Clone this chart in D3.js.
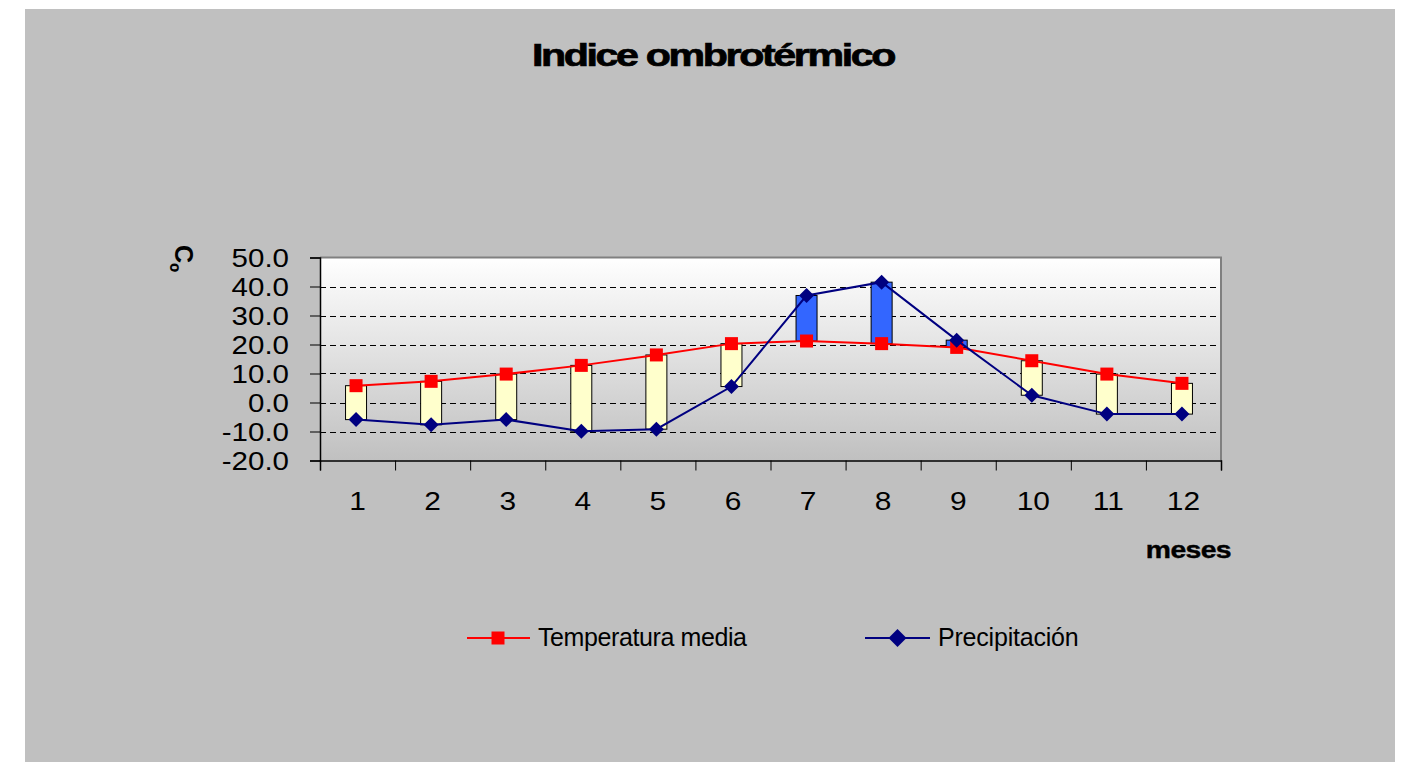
<!DOCTYPE html>
<html>
<head>
<meta charset="utf-8">
<script src="https://cdn.jsdelivr.net/npm/d3@7"></script>
<style>
  body { margin: 0; background: #ffffff; }
  svg { display: block; }
  text { font-family: "Liberation Sans", Arial, sans-serif; fill: #000; }
</style>
</head>
<body>
<svg id="chart" width="1407" height="762"></svg>
<script>
// Monthly values (months 1..12)
const months = ["1", "2", "3", "4", "5", "6", "7", "8", "9", "10", "11", "12"];
const temperatura = [5.8, 7.3, 9.8, 12.8, 16.4, 20.3, 21.2, 20.3, 19.0, 14.4, 9.8, 6.6];
const precipitacion = [-5.9, -7.7, -5.9, -9.9, -9.2, 5.5, 36.9, 41.5, 21.5, 2.5, -4.0, -4.0];
const yTicks = [-20, -10, 0, 10, 20, 30, 40, 50];
const seriesNames = ["Temperatura media", "Precipitación"];
const titleText = "Indice ombrotérmico";
const yTitle = "C";
const yTitleSup = "º";
const xTitle = "meses";

const colTemp = "#ff0000";
const colPrec = "#000080";
const colDry = "#ffffcc";
const colWet = "#3366ff";

const svg = d3.select("#chart");

// chart panel
svg.append("rect")
  .attr("x", 25).attr("y", 9).attr("width", 1370).attr("height", 760)
  .attr("fill", "#c0c0c0");

const plot = { left: 320, right: 1221, top: 257.5, bottom: 460.5 };

const x = d3.scaleBand().domain(months).range([plot.left, plot.right]).padding(0);
const xEdge = d3.scaleLinear().domain([0, months.length]).range([plot.left, plot.right]);
const y = d3.scaleLinear().domain([d3.min(yTicks), d3.max(yTicks)]).range([plot.bottom, plot.top]);
const cx = m => x(m) + x.bandwidth() / 2 - 1.5;

// plot area background gradient
const defs = svg.append("defs");
const grad = defs.append("linearGradient")
  .attr("id", "plotBg").attr("x1", 0).attr("y1", 0).attr("x2", 0).attr("y2", 1);
grad.append("stop").attr("offset", "0%").attr("stop-color", "#ffffff");
grad.append("stop").attr("offset", "100%").attr("stop-color", "#c0c0c0");

svg.append("rect")
  .attr("x", plot.left).attr("y", plot.top)
  .attr("width", plot.right - plot.left).attr("height", plot.bottom - plot.top)
  .attr("fill", "url(#plotBg)");

// dashed gridlines
svg.append("g").selectAll("line")
  .data(yTicks.filter(v => v > d3.min(yTicks) && v < d3.max(yTicks)))
  .join("line")
  .attr("x1", plot.left).attr("x2", plot.right)
  .attr("y1", d => Math.round(y(d)) + 0.5).attr("y2", d => Math.round(y(d)) + 0.5)
  .attr("stroke", "#000").attr("stroke-width", 1).attr("stroke-dasharray", "6,4");

// top and right frame
svg.append("path")
  .attr("d", `M${plot.left},${plot.top}H${plot.right}V${plot.bottom}`)
  .attr("fill", "none").attr("stroke", "#808080").attr("stroke-width", 2);

// up/down bars between the two series
const rows = months.map((m, i) => ({ m, t: temperatura[i], p: precipitacion[i] }));
svg.append("g").selectAll("rect")
  .data(rows)
  .join("rect")
  .attr("x", d => cx(d.m) - 10.5)
  .attr("width", 21)
  .attr("y", d => y(Math.max(d.t, d.p)))
  .attr("height", d => Math.abs(y(d.t) - y(d.p)))
  .attr("fill", d => d.p > d.t ? colWet : colDry)
  .attr("stroke", "#000").attr("stroke-width", 1);

// series lines and markers
const line = d3.line().x((d, i) => cx(months[i])).y(d => y(d));
svg.append("path").datum(temperatura)
  .attr("d", line).attr("fill", "none").attr("stroke", colTemp).attr("stroke-width", 2);
svg.append("g").selectAll("rect")
  .data(temperatura)
  .join("rect")
  .attr("x", (d, i) => cx(months[i]) - 6.5).attr("y", d => y(d) - 6.5)
  .attr("width", 13).attr("height", 13)
  .attr("fill", colTemp);

svg.append("path").datum(precipitacion)
  .attr("d", line).attr("fill", "none").attr("stroke", colPrec).attr("stroke-width", 2);
const diamond = (px, py, r) => `M${px},${py - r}L${px + r},${py}L${px},${py + r}L${px - r},${py}Z`;
svg.append("g").selectAll("path")
  .data(precipitacion)
  .join("path")
  .attr("d", (d, i) => diamond(cx(months[i]), y(d), 7.5))
  .attr("fill", colPrec);

// y axis
const yAxis = svg.append("g")
  .attr("transform", `translate(${plot.left},0)`)
  .call(d3.axisLeft(y).tickValues(yTicks).tickSize(10).tickFormat(d => d.toFixed(1)));
yAxis.select(".domain").attr("stroke", "#000").attr("stroke-width", 1.5);
yAxis.selectAll(".tick line").attr("stroke", "#000");
yAxis.selectAll(".tick text")
  .attr("x", -31 / 1.18).attr("dy", null).attr("y", 8.5)
  .attr("transform", "scale(1.18,1)")
  .attr("font-size", 25).attr("font-family", "Liberation Sans, Arial, sans-serif");

// x axis: labels at category centres, ticks at category edges
const xAxis = svg.append("g")
  .attr("transform", `translate(0,${plot.bottom})`)
  .call(d3.axisBottom(x).tickSize(0).tickPadding(0));
xAxis.select(".domain").remove();
xAxis.selectAll(".tick text")
  .attr("y", 50).attr("dy", null)
  .attr("transform", "scale(1.15,1)")
  .attr("font-size", 26).attr("font-family", "Liberation Sans, Arial, sans-serif");

const xTicks = svg.append("g")
  .attr("transform", `translate(0,${plot.bottom})`)
  .call(d3.axisBottom(xEdge).tickValues(d3.range(0, months.length + 1)).tickSize(10).tickFormat(""));
xTicks.select(".domain").attr("stroke", "#000").attr("stroke-width", 1.5);
xTicks.selectAll(".tick line").attr("stroke", "#000");

// title
svg.append("g").attr("transform", "translate(713,65.5) scale(1.33,1)")
  .append("text").attr("text-anchor", "middle")
  .attr("font-size", 31).attr("font-weight", "bold").attr("letter-spacing", -1.8)
  .attr("stroke", "#000").attr("stroke-width", 0.7)
  .text(titleText);

// y axis title
const yt = svg.append("g").attr("transform", "translate(175,245) rotate(90)")
  .append("text").attr("font-size", 25).attr("font-weight", "bold");
yt.append("tspan").text(yTitle);
yt.append("tspan").attr("dy", 14).text(yTitleSup);

// x axis title
svg.append("g").attr("transform", "translate(1231,558) scale(1.18,1)")
  .append("text").attr("text-anchor", "end")
  .attr("font-size", 24).attr("font-weight", "bold").attr("letter-spacing", -0.5)
  .attr("stroke", "#000").attr("stroke-width", 0.4)
  .text(xTitle);

// legend
const legend = svg.append("g");
const legY = 638;
legend.append("line").attr("x1", 467).attr("x2", 530).attr("y1", legY).attr("y2", legY)
  .attr("stroke", colTemp).attr("stroke-width", 2);
legend.append("rect").attr("x", 498 - 6.5).attr("y", legY - 6.5).attr("width", 13).attr("height", 13)
  .attr("fill", colTemp);
legend.append("text").attr("x", 538).attr("y", 646).attr("font-size", 25).attr("letter-spacing", -0.4)
  .text(seriesNames[0]);

legend.append("line").attr("x1", 865).attr("x2", 930).attr("y1", legY).attr("y2", legY)
  .attr("stroke", colPrec).attr("stroke-width", 2);
legend.append("path").attr("d", diamond(897.5, legY, 9)).attr("fill", colPrec);
legend.append("text").attr("x", 938).attr("y", 646).attr("font-size", 25).attr("letter-spacing", -0.2)
  .text(seriesNames[1]);
</script>
</body>
</html>
